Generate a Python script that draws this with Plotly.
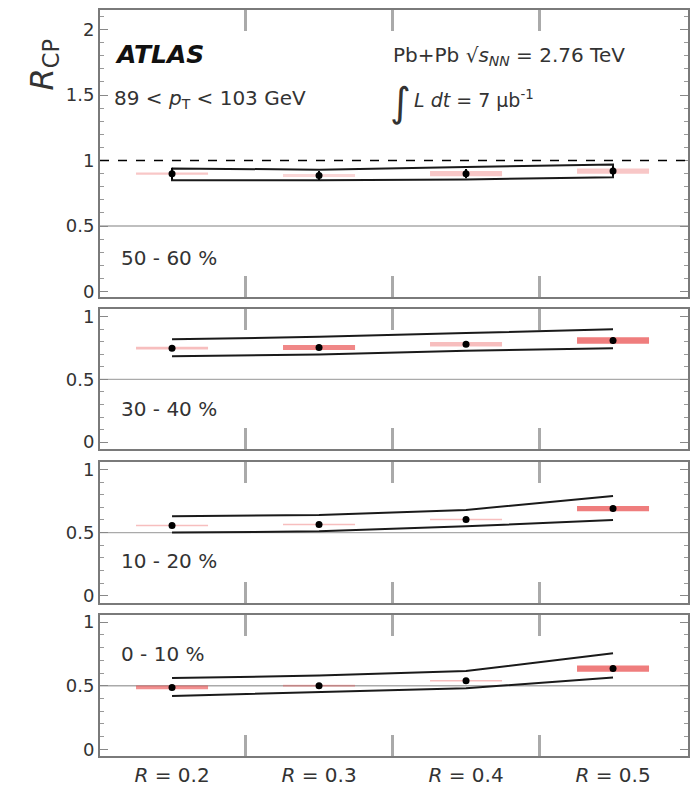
import plotly.graph_objects as go

# ---------------- data ----------------
R_vals = [0.2, 0.3, 0.4, 0.5]
x_tick_text = ["<i>R</i> = 0.2", "<i>R</i> = 0.3", "<i>R</i> = 0.4", "<i>R</i> = 0.5"]
centrality = ["50 - 60 %", "30 - 40 %", "10 - 20 %", "0 - 10 %"]

rcp_5060 = [0.90, 0.886, 0.90, 0.92]
stat_5060 = [0.044, 0.035, 0.035, 0.035]
sys_5060 = [0.008, 0.012, 0.02, 0.02]
band_hi_5060 = [0.94, 0.93, 0.95, 0.97]
band_lo_5060 = [0.85, 0.85, 0.856, 0.873]

rcp_3040 = [0.75, 0.755, 0.78, 0.81]
stat_3040 = [0.022, 0.022, 0.022, 0.025]
sys_3040 = [0.01, 0.02, 0.018, 0.026]
band_hi_3040 = [0.82, 0.84, 0.87, 0.90]
band_lo_3040 = [0.685, 0.70, 0.73, 0.75]

rcp_1020 = [0.557, 0.565, 0.604, 0.69]
stat_1020 = [0.018, 0.018, 0.018, 0.022]
sys_1020 = [0.006, 0.006, 0.006, 0.02]
band_hi_1020 = [0.63, 0.64, 0.68, 0.79]
band_lo_1020 = [0.50, 0.51, 0.55, 0.60]

rcp_0010 = [0.487, 0.50, 0.54, 0.635]
stat_0010 = [0.018, 0.018, 0.018, 0.022]
sys_0010 = [0.015, 0.008, 0.006, 0.025]
band_hi_0010 = [0.56, 0.58, 0.615, 0.755]
band_lo_0010 = [0.42, 0.45, 0.48, 0.565]

# style per bar (opacity of the red systematic boxes)
bar_alpha = [
    [0.30, 0.22, 0.30, 0.30],
    [0.35, 0.65, 0.35, 0.70],
    [0.35, 0.35, 0.35, 0.70],
    [0.60, 0.35, 0.35, 0.70],
]

panels = [
    (rcp_5060, stat_5060, sys_5060, band_hi_5060, band_lo_5060),
    (rcp_3040, stat_3040, sys_3040, band_hi_3040, band_lo_3040),
    (rcp_1020, stat_1020, sys_1020, band_hi_1020, band_lo_1020),
    (rcp_0010, stat_0010, sys_0010, band_hi_0010, band_lo_0010),
]

W, H = 690, 792
pan_px = [(7, 297), (309, 450), (463, 605), (617, 760)]
y_ranges = [[-0.045, 2.15], [-0.055, 1.06], [-0.055, 1.06], [-0.055, 1.06]]
x_dom = [100 / W, 688 / W]
x_range = [0.151, 0.551]

FONT = "DejaVu Sans, sans-serif"
TXT = "#333333"
FRAME = "#7a7a7a"

fig = go.Figure()
shapes = []
annotations = []

for i, (vals, stat, sys, hi, lo) in enumerate(panels):
    n = i + 1
    xa = "x" if n == 1 else f"x{n}"
    ya = "y" if n == 1 else f"y{n}"

    fig.add_trace(go.Bar(
        x=R_vals, base=[v - s for v, s in zip(vals, sys)], y=[2 * s for s in sys],
        width=0.049, xaxis=xa, yaxis=ya, showlegend=False,
        marker=dict(color=[f"rgba(232,70,70,{a})" for a in bar_alpha[i]], line=dict(width=0)),
    ))
    if n == 1:
        # closed envelope
        fig.add_trace(go.Scatter(
            x=R_vals + R_vals[::-1] + [R_vals[0]], y=hi + lo[::-1] + [hi[0]],
            mode="lines", xaxis=xa, yaxis=ya, showlegend=False,
            line=dict(color="#1a1a1a", width=2),
        ))
    else:
        for band in (hi, lo):
            fig.add_trace(go.Scatter(
                x=R_vals, y=band, mode="lines", xaxis=xa, yaxis=ya, showlegend=False,
                line=dict(color="#1a1a1a", width=2),
            ))
    fig.add_trace(go.Scatter(
        x=R_vals, y=vals, mode="markers", xaxis=xa, yaxis=ya, showlegend=False,
        marker=dict(color="black", size=7),
        error_y=dict(type="data", array=stat, color="black", thickness=2, width=0),
    ))

    top, bot = pan_px[i]
    dom = [1 - bot / H, 1 - top / H]
    tickvals = [0, 0.5, 1, 1.5, 2] if n == 1 else [0, 0.5, 1]
    fig.update_layout(**{
        ("xaxis" if n == 1 else f"xaxis{n}"): dict(
            domain=x_dom, range=x_range, anchor=ya,
            showline=True, linecolor=FRAME, linewidth=2, mirror="ticks",
            tickvals=R_vals, ticktext=x_tick_text, ticks="inside", ticklen=0,
            showticklabels=(n == 4), showgrid=False, zeroline=False,
            tickfont=dict(family=FONT, size=20, color=TXT),
            minor=dict(tickvals=[0.25, 0.35, 0.45], ticks="inside", ticklen=21,
                       tickwidth=3, tickcolor="#aaaaaa", showgrid=False),
            **({} if n == 1 else {"matches": "x"}),
        ),
        ("yaxis" if n == 1 else f"yaxis{n}"): dict(
            domain=dom, range=y_ranges[i], anchor=xa,
            showline=True, linecolor=FRAME, linewidth=2, mirror="ticks",
            tickvals=tickvals, ticks="inside", ticklen=8, tickcolor="#888888", tickwidth=1,
            showgrid=False, zeroline=False,
            tickfont=dict(family=FONT, size=18, color=TXT),
            minor=dict(dtick=0.1, tick0=0, ticks="inside", ticklen=4,
                       tickcolor="#999999", showgrid=False),
        ),
    })

    shapes.append(dict(type="line", xref=f"{xa} domain", yref=ya, x0=0, x1=1,
                       y0=0.5, y1=0.5, line=dict(color="#aaaaaa", width=1.3), layer="below"))
    if n == 1:
        shapes.append(dict(type="line", xref=f"{xa} domain", yref=ya, x0=0, x1=1,
                           y0=1, y1=1, line=dict(color="black", width=1.5, dash="dash")))

    cy = {1: 257, 2: 410, 3: 563, 4: 657}[n]
    annotations.append(dict(text=centrality[i], x=119 / W, y=1 - cy / H, xref="paper", yref="paper",
                            xanchor="left", yanchor="middle", showarrow=False,
                            font=dict(family=FONT, size=20, color=TXT)))

annotations += [
    dict(text="<b><i>ATLAS</i></b>", x=113 / W, y=1 - 52 / H, xref="paper", yref="paper",
         xanchor="left", yanchor="middle", showarrow=False,
         font=dict(family=FONT, size=25, color="#111111")),
    dict(text="89 &lt; <i>p</i><sub>T</sub> &lt; 103 GeV", x=112 / W, y=1 - 97 / H,
         xref="paper", yref="paper", xanchor="left", yanchor="middle", showarrow=False,
         font=dict(family=FONT, size=20, color=TXT)),
    dict(text="Pb+Pb \u221A<i>s</i><sub><i>NN</i></sub> = 2.76 TeV", x=391 / W, y=1 - 53 / H,
         xref="paper", yref="paper", xanchor="left", yanchor="middle", showarrow=False,
         font=dict(family=FONT, size=20, color=TXT)),
    dict(text="\u222B", x=388 / W, y=1 - 100 / H,
         xref="paper", yref="paper", xanchor="left", yanchor="middle", showarrow=False,
         font=dict(family=FONT, size=40, color=TXT)),
    dict(text="<i>L dt</i> = 7 \u03BCb<sup>-1</sup>", x=412 / W, y=1 - 97 / H,
         xref="paper", yref="paper", xanchor="left", yanchor="middle", showarrow=False,
         font=dict(family=FONT, size=19, color=TXT)),
    dict(text="<i>R</i><sub>CP</sub>", x=44 / W, y=1 - 63 / H, xref="paper", yref="paper",
         xanchor="center", yanchor="middle", showarrow=False, textangle=-90,
         font=dict(family=FONT, size=32, color=TXT)),
]

fig.update_layout(
    width=W, height=H, autosize=False,
    margin=dict(l=0, r=0, t=0, b=0),
    paper_bgcolor="white", plot_bgcolor="white",
    barmode="overlay", showlegend=False,
    shapes=shapes, annotations=annotations,
)

fig.write_html("out.html")
